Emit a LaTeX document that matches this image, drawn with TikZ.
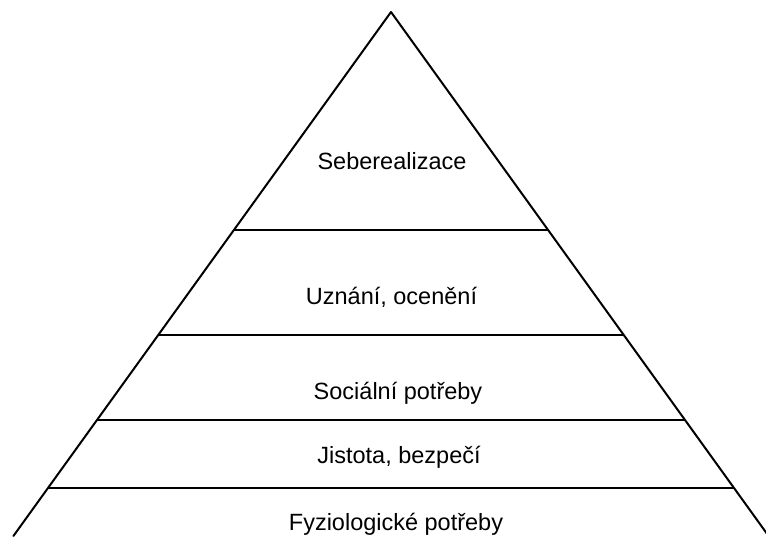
\documentclass[tikz,border=0pt]{standalone}
\usepackage{fontspec}
\setmainfont{Liberation Sans}
\begin{document}
\begin{tikzpicture}[x=1pt,y=-1pt,
  side/.style={line width=2pt,line cap=round,line join=round},
  level/.style={line width=1.6pt},
  label/.style={anchor=base,inner sep=0pt,font=\fontsize{23.5}{28}\selectfont}]
  \useasboundingbox (0,0) rectangle (766,536);
  \clip (0,0) rectangle (766,536);
  % pyramid outline
  \coordinate (apex) at (391,12);
  \coordinate (bl) at (13.4,536);
  \coordinate (br) at (768.6,536);
  \draw[side] (bl) -- (apex) -- (br);
  % level dividers
  \coordinate (l1) at (233.9,230); \coordinate (r1) at (548.1,230);
  \coordinate (l2) at (158.2,335); \coordinate (r2) at (623.8,335);
  \coordinate (l3) at (97,420);    \coordinate (r3) at (685,420);
  \coordinate (l4) at (48,488);    \coordinate (r4) at (734,488);
  \draw[level] (l1) -- (r1);
  \draw[level] (l2) -- (r2);
  \draw[level] (l3) -- (r3);
  \draw[level] (l4) -- (r4);
  % level labels
  \node[label] (t1) at (392,169) {Seberealizace};
  \node[label] (t2) at (391.5,304) {Uznání, ocenění};
  \node[label] (t3) at (398,399) {Sociální potřeby};
  \node[label] (t4) at (399,463) {Jistota, bezpečí};
  \node[label] (t5) at (396,530) {Fyziologické potřeby};
\end{tikzpicture}
\end{document}
